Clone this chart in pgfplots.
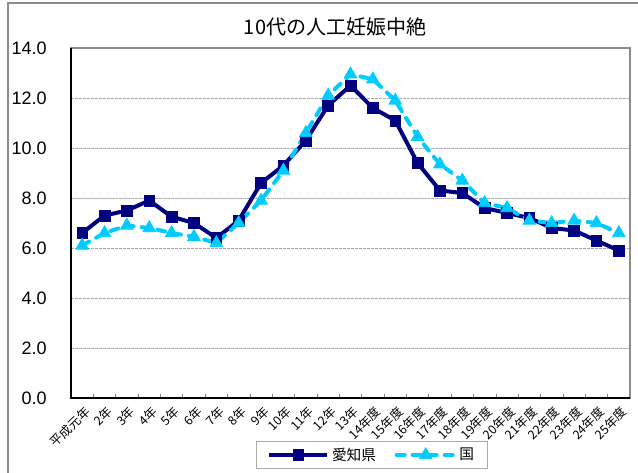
\documentclass[border=0pt]{standalone}
\usepackage{fontspec}
\setmainfont{Liberation Sans}
\newfontfamily\jp{Noto Sans CJK JP}
\usepackage{pgfplots}
\pgfplotsset{compat=1.18}
\definecolor{aichi}{RGB}{0,0,128}
\definecolor{kuni}{RGB}{0,204,255}
\definecolor{framegray}{RGB}{140,140,140}
\definecolor{gridgray}{RGB}{170,170,170}
\begin{document}
\begin{tikzpicture}
\useasboundingbox (0,0) rectangle (478.5pt,354pt);
\draw[framegray, line width=0.9pt] (6pt,-5pt) -- (6pt,351.75pt) -- (485pt,351.75pt);
\node[font=\jp\fontsize{15pt}{17pt}\selectfont] at (251.25pt,333.75pt) {10代の人工妊娠中絶};
\begin{axis}[
  at={(53.25pt,55.5pt)}, anchor=south west,
  width=419.25pt, height=262.5pt, scale only axis,
  xmin=-0.5, xmax=24.5, ymin=0, ymax=14,
  ytick={0,2,...,14},
  xtick={0,...,24},
  xticklabels={平成元年,2年,3年,4年,5年,6年,7年,8年,9年,10年,11年,12年,13年,14年度,15年度,16年度,17年度,18年度,19年度,20年度,21年度,22年度,23年度,24年度,25年度},
  minor xtick={0.5,1.5,...,23.5},
  major tick length=0pt,
  minor tick length=3pt,
  tick align=inside,
  xtick pos=bottom, ytick pos=left,
  minor tick style={gray, line width=0.5pt},
  axis line style={framegray, line width=1pt},
  ymajorgrids,
  grid style={gridgray, line width=0.6pt, dash pattern=on 2pt off 1pt},
  /pgf/number format/assume math mode=true,
  yticklabel style={/pgf/number format/fixed, /pgf/number format/fixed zerofill, /pgf/number format/precision=1},
  y tick label style={font=\fontsize{13.5pt}{15pt}\selectfont, inner sep=0pt, xshift=-18pt},
  x tick label style={font=\jp\fontsize{9.3pt}{11pt}\selectfont, rotate=45, anchor=east, inner sep=0pt, yshift=-9pt, xshift=-3pt},
  legend style={at={(0.5385,-0.1629)}, anchor=center, draw=gridgray, line width=0.6pt,
    font=\jp\fontsize{11pt}{12pt}\selectfont, legend columns=2,
    inner xsep=8pt, inner ysep=2.5pt,
    /tikz/every even column/.append style={column sep=12pt}},
  legend image code/.code={\draw[mark repeat=2,mark phase=2] plot coordinates {(0pt,0pt) (21.75pt,0pt) (43.5pt,0pt)};},
  clip=false,
]
\addplot[color=aichi, line width=3pt, mark=square*, mark size=4pt, mark options={solid, line width=0.5pt, fill=aichi}] coordinates {
(0,6.6) (1,7.3) (2,7.5) (3,7.9) (4,7.25) (5,7.0) (6,6.4) (7,7.1) (8,8.6) (9,9.3) (10,10.3) (11,11.7) (12,12.5)
(13,11.6) (14,11.1) (15,9.4) (16,8.3) (17,8.2) (18,7.6) (19,7.4) (20,7.2) (21,6.8) (22,6.7) (23,6.3) (24,5.9)};
\addlegendentry{愛知県}
\addplot[color=kuni, line width=3pt, line cap=round, dash pattern=on 6pt off 6pt, mark=triangle*, mark size=5.5pt, mark options={solid, line width=0.5pt, fill=kuni}] coordinates {
(0,6.1) (1,6.6) (2,6.9) (3,6.8) (4,6.6) (5,6.45) (6,6.2) (7,7.0) (8,7.9) (9,9.1) (10,10.6) (11,12.1) (12,12.95)
(13,12.75) (14,11.9) (15,10.45) (16,9.35) (17,8.7) (18,7.8) (19,7.6) (20,7.1) (21,7.0) (22,7.1) (23,7.0) (24,6.6)};
\addlegendentry{国}
\draw[black, line width=1pt] (rel axis cs:0,1) -- (rel axis cs:0,0) -- (rel axis cs:1,0);
\end{axis}
\end{tikzpicture}
\end{document}
